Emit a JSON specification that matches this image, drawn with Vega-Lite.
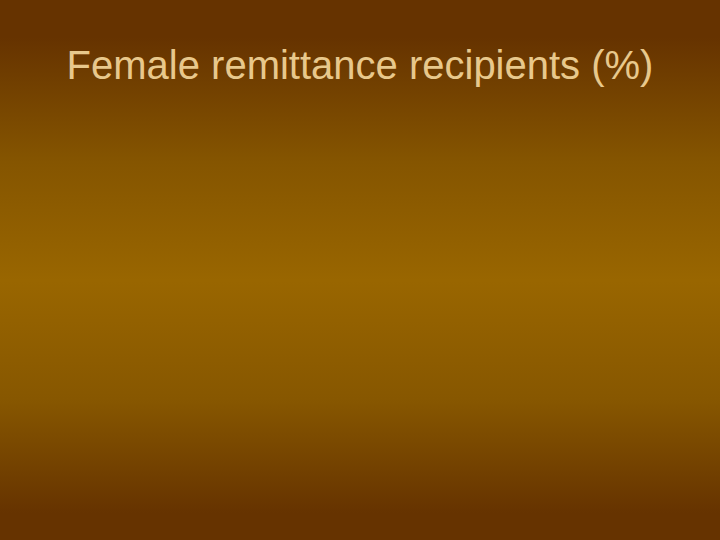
{
  "$schema": "https://vega.github.io/schema/vega-lite/v6.json",
  "width": 720,
  "height": 540,
  "padding": 0,
  "autosize": {"type": "none"},
  "background": "#663300",
  "title": {
    "text": "Female remittance recipients (%)",
    "orient": "top",
    "anchor": "middle",
    "baseline": "alphabetic",
    "offset": -119,
    "font": "Liberation Sans",
    "fontSize": 40,
    "fontWeight": "normal",
    "color": "#E8C88C"
  },
  "config": {"view": {"stroke": null}},
  "data": {"values": [{"slide": "Female remittance recipients (%)"}]},
  "mark": {
    "type": "rect",
    "color": {
      "gradient": "linear",
      "x1": 0, "y1": 0, "x2": 0, "y2": 1,
      "stops": [
        {"offset": 0, "color": "#663300"},
        {"offset": 0.07, "color": "#663300"},
        {"offset": 0.3, "color": "#855500"},
        {"offset": 0.52, "color": "#996600"},
        {"offset": 0.74, "color": "#875700"},
        {"offset": 0.95, "color": "#663300"},
        {"offset": 1, "color": "#663300"}
      ]
    }
  },
  "encoding": {}
}
